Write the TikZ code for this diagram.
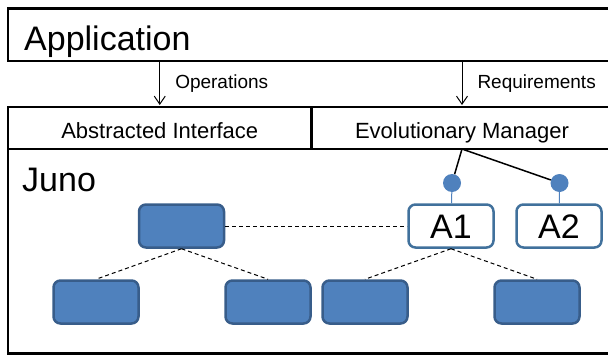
\documentclass[tikz,border=0pt]{standalone}
\usepackage{fontspec}
\setmainfont{Liberation Sans}
\definecolor{junoblue}{HTML}{4F81BD}
\definecolor{junoedge}{HTML}{385D8A}
\definecolor{agentedge}{HTML}{41719C}
\usetikzlibrary{arrows.meta,positioning}

\begin{document}
\begin{tikzpicture}[x=1pt, y=-1pt,
  frame/.style={draw, line width=2.8pt, anchor=north west, inner sep=0pt, outer sep=0pt},
  title/.style={anchor=base west, inner sep=0pt, font=\fontsize{34}{40}\selectfont},
  layer/.style={frame, minimum height=42pt, text height=22pt, text depth=2pt,
    font=\fontsize{22}{26}\selectfont},
  note/.style={inner sep=0pt, font=\fontsize{19}{23}\selectfont},
  module/.style={draw=junoedge, fill=junoblue, rounded corners=7pt, line width=2.5pt,
    minimum width=85pt, minimum height=43pt, inner sep=0pt},
  agent/.style={module, draw=agentedge, fill=white, text height=24pt, text depth=0pt,
    font=\fontsize{34}{40}\selectfont},
  pin/.style={circle, fill=junoblue, minimum size=18pt, inner sep=0pt},
  flow/.style={-{Straight Barb[length=8pt,width=11pt]}, line width=1pt, shorten >=2pt},
  link/.style={line width=1pt, dash pattern=on 4pt off 3pt},
  wire/.style={line width=1.5pt},
  stem/.style={junoblue, line width=1pt}
]
  \useasboundingbox (0,0) rectangle (608,356);

  % Application layer
  \node[frame, minimum width=612pt, minimum height=52.5pt] (app) at (8,8.5) {};
  \node[title] (apptitle) at (24,50) {Application};

  % Interface and manager
  \node[layer, minimum width=303.5pt] (abs) at (8,107) {Abstracted Interface};
  \node[layer, minimum width=300pt] (evo) at (312,107) {Evolutionary Manager};

  % Juno
  \node[frame, minimum width=612pt, minimum height=204.5pt] (juno) at (8,149) {};
  \node[title] (junotitle) at (22,191) {Juno};

  % Calls down from the application
  \draw[flow] (app.south -| abs.north) -- (abs.north)
    node[note, midway, right=15pt] (ops) {Operations};
  \draw[flow] (app.south -| evo.north) -- (evo.north)
    node[note, midway, right=15pt] (req) {Requirements};

  % Modules
  \node[module] (top) at (181.5,226) {};
  \node[agent] (a1) at (451,226) {A1};
  \node[agent] (a2) at (559,226) {A2};
  \node[module] (b1) at (96,302) {};
  \node[module] (b2) at (268,302) {};
  \node[module] (b3) at (365,302) {};
  \node[module] (b4) at (537,302) {};

  % Pins of the agents
  \node[pin] (pin1) at (452,183) {};
  \node[pin] (pin2) at (559.5,183) {};
  \draw[stem] (pin1) -- (a1);
  \draw[stem] (pin2) -- (a2);
  \draw[wire] (evo.south) -- (pin1);
  \draw[wire] (evo.south) -- (pin2);

  % Dashed links
  \draw[link] (top) -- (a1);
  \draw[link] (top.south) -- (b1.north);
  \draw[link] (top.south) -- (b2.north);
  \draw[link] (a1.south) -- (b3.north);
  \draw[link] (a1.south) -- (b4.north);
\end{tikzpicture}
\end{document}
